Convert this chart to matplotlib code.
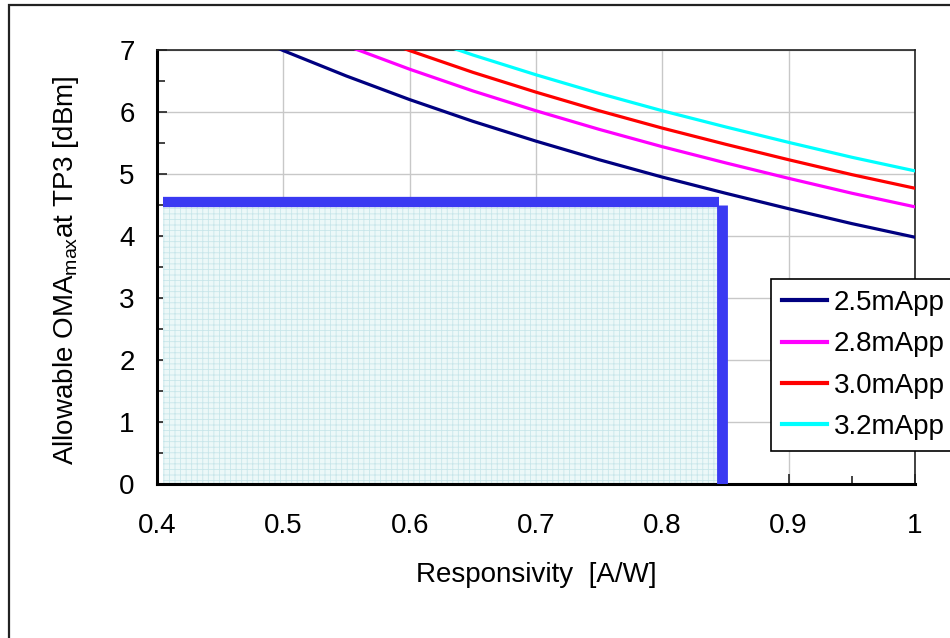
import matplotlib
matplotlib.use("Agg")
import matplotlib.pyplot as plt
from matplotlib.patches import Rectangle

plt.rcParams['font.family'] = ['Liberation Sans', 'DejaVu Sans']
plt.rcParams['mathtext.fontset'] = 'custom'
plt.rcParams['mathtext.rm'] = 'Liberation Sans'
plt.rcParams['hatch.linewidth'] = 0.6

# ---- data ----
responsivity = [0.40, 0.45, 0.50, 0.55, 0.60, 0.65, 0.70, 0.75, 0.80, 0.85, 0.90, 0.95, 1.00]
oma_25 = [7.96, 7.45, 6.99, 6.58, 6.20, 5.85, 5.53, 5.23, 4.95, 4.69, 4.44, 4.20, 3.98]
oma_28 = [8.45, 7.94, 7.48, 7.07, 6.69, 6.34, 6.02, 5.72, 5.44, 5.18, 4.93, 4.69, 4.47]
oma_30 = [8.75, 8.24, 7.78, 7.37, 6.99, 6.64, 6.32, 6.02, 5.74, 5.48, 5.23, 4.99, 4.77]
oma_32 = [9.03, 8.52, 8.06, 7.65, 7.27, 6.92, 6.60, 6.30, 6.02, 5.76, 5.51, 5.27, 5.05]
series_labels = ['2.5mApp', '2.8mApp', '3.0mApp', '3.2mApp']
series_colors = ['#000080', '#ff00ff', '#ff0000', '#00ffff']

region_x = [0.405, 0.845]   # shaded allowable region (responsivity)
region_top = 4.5            # shaded region top (dBm)
bar_top_y = 4.55            # blue top border level
bar_right_x = 0.847         # blue right border position

x_ticks = [0.4, 0.5, 0.6, 0.7, 0.8, 0.9, 1.0]
x_tick_labels = ['0.4', '0.5', '0.6', '0.7', '0.8', '0.9', '1']
y_ticks = [0, 1, 2, 3, 4, 5, 6, 7]

FS = 20

# ---- figure ----
fig = plt.figure(figsize=(9.5, 6.38), dpi=100)
ax = fig.add_axes([157/950, 1-484/638, (915-157)/950, (484-50)/638])

# shaded region
ax.add_patch(Rectangle((region_x[0], 0), region_x[1]-region_x[0], region_top,
                       facecolor='#ecf8f8', edgecolor='#c8e6ea', hatch='+++',
                       linewidth=0, zorder=1))
ax.plot([region_x[0], region_x[1]], [bar_top_y, bar_top_y], color='#3a3af2',
        lw=7.4, solid_capstyle='butt', zorder=3)
ax.plot([bar_right_x, bar_right_x], [0, region_top], color='#3a3af2',
        lw=7.8, solid_capstyle='butt', zorder=3)

for ys, lab, col in zip([oma_25, oma_28, oma_30, oma_32], series_labels, series_colors):
    ax.plot(responsivity, ys, color=col, lw=2.3, label=lab, zorder=4)

ax.set_xlim(0.4, 1.0)
ax.set_ylim(0, 7)
ax.set_xticks(x_ticks)
ax.set_xticklabels(x_tick_labels)
ax.set_yticks(y_ticks)
ax.set_xticks([0.45, 0.55, 0.65, 0.75, 0.85, 0.95], minor=True)
ax.set_yticks([0.5, 1.5, 2.5, 3.5, 4.5, 5.5, 6.5], minor=True)
ax.tick_params(which='both', direction='in', labelsize=FS, color='#222222', width=1.2)
ax.tick_params(which='major', length=7)
ax.tick_params(which='minor', length=6)
ax.tick_params(axis='x', which='major', pad=21)
ax.tick_params(axis='y', which='major', pad=16)
ax.grid(True, which='major', color='#c8c8c8', lw=1.0, zorder=0)
ax.set_axisbelow(True)
for s in ax.spines.values():
    s.set_linewidth(1.2)
    s.set_color('#222222')
ax.spines['left'].set_linewidth(2.2)
ax.spines['left'].set_color('black')
ax.spines['bottom'].set_linewidth(2.2)
ax.spines['bottom'].set_color('black')

fig.text(536/950, 1-575/638, 'Responsivity  [A/W]', ha='center', va='center', fontsize=FS)
fig.text(66/950, 1-270/638, 'Allowable OMA$_{\\mathrm{max}}$at TP3 [dBm]', ha='center',
         va='center', rotation=90, fontsize=FS)

leg = ax.legend(loc='upper left', bbox_to_anchor=(771/950, 1-279/638),
                bbox_transform=fig.transFigure, borderaxespad=0, fontsize=FS,
                fancybox=False, framealpha=1, edgecolor='black', handlelength=1.6,
                handletextpad=0.25, borderpad=0.4, labelspacing=0.55)
leg.get_frame().set_linewidth(1.2)
for h in leg.get_lines():
    h.set_linewidth(3)

# outer chart frame (extends beyond the right and bottom edges)
frame = Rectangle((9/950, -0.2), 2.0, 1.2 - 5/638, transform=fig.transFigure,
                  fill=False, edgecolor='#222222', lw=1.6, clip_on=False)
fig.add_artist(frame)

fig.savefig('out.png', dpi=100)
